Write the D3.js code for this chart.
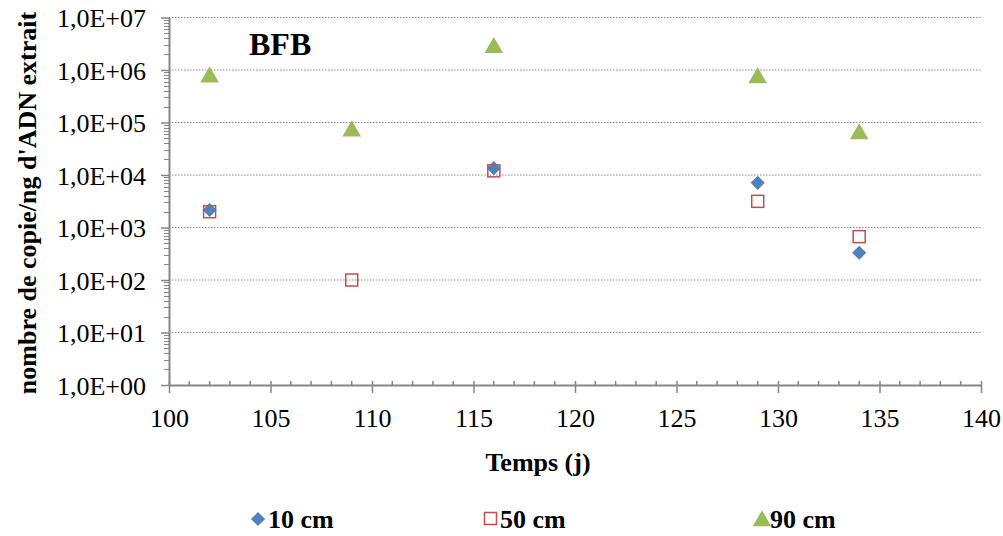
<!DOCTYPE html>
<html><head><meta charset="utf-8">
<script src="https://cdn.jsdelivr.net/npm/d3@7"></script>
<style>body{margin:0;background:#fff}svg{display:block}text{font-family:"Liberation Serif","Times New Roman",serif;fill:#000}</style>
</head><body><svg id="c" width="1003" height="536"></svg>
<script>
const days = [102, 109, 116, 129, 134];
const s10 = [2150, null, 13500, 7100, 330];
const s50 = [2000, 100, 12000, 3150, 670];
const s90 = [800000, 75000, 2900000, 770000, 66000];
const seriesNames = ["10 cm", "50 cm", "90 cm"];
const yTickValues = [1, 10, 100, 1000, 10000, 100000, 1000000, 10000000];
const yTickLabels = ["1,0E+00","1,0E+01","1,0E+02","1,0E+03","1,0E+04","1,0E+05","1,0E+06","1,0E+07"];
const xTickValues = [100,105,110,115,120,125,130,135,140];

const svg = d3.select("#c");
const L=169, R=981, T=17.5, B=385;
const x = d3.scaleLinear().domain([100,140]).range([L,R]);
const y = d3.scaleLog().domain([1,1e7]).range([B,T]);
const axisCol = "#868686";
const FS = 26;

// gridlines
svg.append("g").selectAll("line").data(yTickValues.slice(1)).join("line")
  .attr("x1",L).attr("x2",R).attr("y1",d=>y(d)).attr("y2",d=>y(d))
  .attr("stroke","#8c8c8c").attr("stroke-width",1).attr("stroke-dasharray","1.5,1.5");

// y minor ticks
const minors=[];
for(let e=0;e<7;e++) for(let m=2;m<=9;m++) minors.push(m*Math.pow(10,e));
svg.append("g").selectAll("line").data(minors).join("line")
  .attr("x1",L-5).attr("x2",L).attr("y1",d=>Math.round(y(d))+0.5).attr("y2",d=>Math.round(y(d))+0.5)
  .attr("stroke",axisCol).attr("stroke-width",1);
// x minor ticks
const xminors=d3.range(101,140).filter(d=>d%5!==0);
svg.append("g").selectAll("line").data(xminors).join("line")
  .attr("x1",d=>x(d)).attr("x2",d=>x(d)).attr("y1",B-4).attr("y2",B)
  .attr("stroke",axisCol).attr("stroke-width",1.5);

// axes
const yAxis = d3.axisLeft(y).tickValues(yTickValues).tickFormat((d,i)=>yTickLabels[i]).tickSizeInner(8).tickSizeOuter(0).tickPadding(15);
const gy = svg.append("g").attr("transform",`translate(${L},0)`).call(yAxis);
const xAxis = d3.axisBottom(x).tickValues(xTickValues).tickFormat(d3.format("d")).tickSizeInner(8).tickSizeOuter(0).tickPadding(15.5);
const gx = svg.append("g").attr("transform",`translate(0,${B})`).call(xAxis);
[gx,gy].forEach(g=>{
  g.select(".domain").attr("stroke",axisCol).attr("stroke-width",2);
  g.selectAll(".tick line").attr("stroke",axisCol).attr("stroke-width",1.5);
  g.selectAll("text").attr("font-family","Liberation Serif").attr("font-size",FS).attr("fill","#000");
});
gx.selectAll(".tick line").attr("y1",-4);
gy.selectAll(".tick text").attr("dy","0.35em");
gx.selectAll(".tick text").attr("dy","0.71em");

// markers
const tri = d3.symbol().type(d3.symbolTriangle).size(150);
function pts(arr){return days.map((d,i)=>({d,v:arr[i]})).filter(p=>p.v!=null);}
// 90 cm triangles
svg.append("g").selectAll("path").data(pts(s90)).join("path")
  .attr("d",tri).attr("transform",p=>`translate(${x(p.d)},${y(p.v)+2})`).attr("fill","#9BBB59");
// 10 cm diamonds
svg.append("g").selectAll("rect").data(pts(s10)).join("rect")
  .attr("x",-5).attr("y",-5).attr("width",10).attr("height",10)
  .attr("transform",p=>`translate(${x(p.d)},${y(p.v)}) rotate(45)`).attr("fill","#4F81BD");
// 50 cm squares
svg.append("g").selectAll("rect").data(pts(s50)).join("rect")
  .attr("x",-6).attr("y",-6).attr("width",12).attr("height",12)
  .attr("transform",p=>`translate(${x(p.d)},${y(p.v)})`).attr("fill","none").attr("stroke","#C0504D").attr("stroke-width",1.5);

// title in plot
svg.append("text").attr("x",249).attr("y",55).attr("font-size",32).attr("font-weight","bold").text("BFB");
// axis titles
svg.append("text").attr("x",538).attr("y",471).attr("text-anchor","middle").attr("font-size",FS).attr("font-weight","bold").text("Temps (j)");
svg.append("text").attr("transform","translate(36,203) rotate(-90)").attr("text-anchor","middle").attr("font-size",FS).attr("font-weight","bold").text("nombre de copie/ng  d'ADN extrait");

// legend
const lg = svg.append("g");
lg.append("rect").attr("x",-5).attr("y",-5).attr("width",10).attr("height",10).attr("transform","translate(258,519) rotate(45)").attr("fill","#4F81BD");
lg.append("text").attr("x",268).attr("y",528).attr("font-size",FS).attr("font-weight","bold").text(seriesNames[0]);
lg.append("rect").attr("x",484.5).attr("y",512.5).attr("width",12).attr("height",12).attr("fill","none").attr("stroke","#C0504D").attr("stroke-width",1.5);
lg.append("text").attr("x",500).attr("y",528).attr("font-size",FS).attr("font-weight","bold").text(seriesNames[1]);
lg.append("path").attr("d",tri).attr("transform","translate(762,521)").attr("fill","#9BBB59");
lg.append("text").attr("x",770).attr("y",528).attr("font-size",FS).attr("font-weight","bold").text(seriesNames[2]);
</script></body></html>
